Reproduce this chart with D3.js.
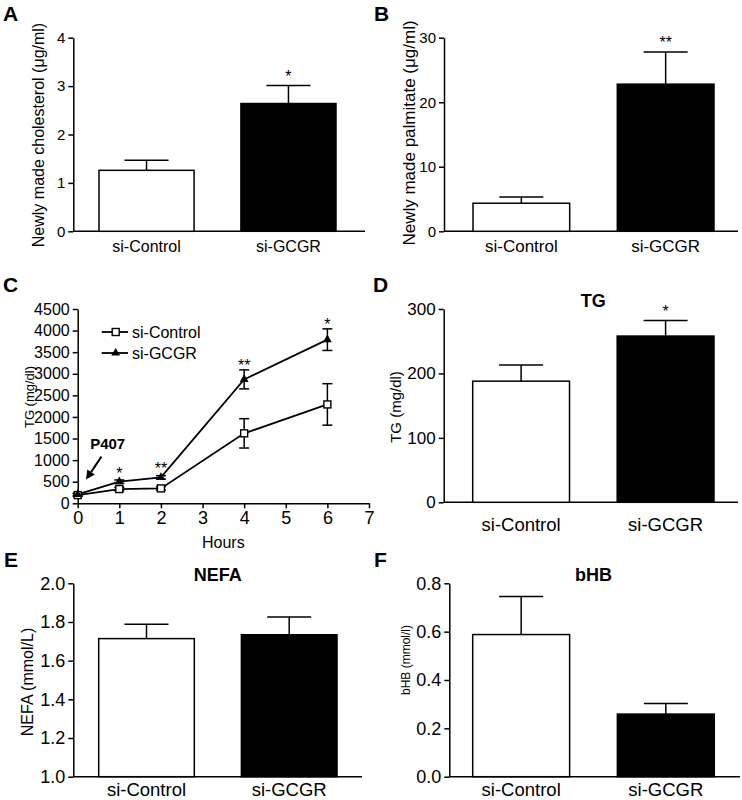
<!DOCTYPE html>
<html lang="en">
<head>
<meta charset="UTF-8">
<title>si-GCGR lipid panels</title>
<script src="https://d3js.org/d3.v7.min.js"></script>
<style>
  body { margin: 0; background: #fff; }
  text { font-family: "Liberation Sans", Arial, Helvetica, sans-serif; fill: #000; }
</style>
</head>
<body>
<script>
// Data
const groups = ["si-Control", "si-GCGR"];

const cholMean = [1.26, 2.64];
const cholErr = [0.21, 0.37];
const cholSig = ["", "*"];

const palmMean = [4.35, 22.8];
const palmErr = [0.95, 5.0];
const palmSig = ["", "**"];

const tgMean = [188, 258];
const tgErr = [25, 24];
const tgSig = ["", "*"];

const nefaMean = [1.714, 1.734];
const nefaErr = [0.074, 0.092];

const bhbMean = [0.588, 0.259];
const bhbErr = [0.157, 0.044];

// panel C time course
const hours = [0, 1, 2, 4, 6];
const ctrlTG = [190, 330, 345, 1620, 2290];
const ctrlTGErr = [30, 40, 40, 340, 480];
const gcgrTG = [205, 500, 600, 2870, 3790];
const gcgrTGErr = [30, 40, 40, 220, 250];
const timeSig = ["", "*", "**", "**", "*"];

const svg = d3.select("body").append("svg")
    .attr("width", 742)
    .attr("height", 800);

function panelLetter(t, x, y) {
    svg.append("text")
        .attr("x", x).attr("y", y)
        .style("font-size", "21px")
        .style("font-weight", "bold")
        .text(t);
}

function yLabel(t, x, y, fs) {
    svg.append("text")
        .attr("transform", "translate(" + x + "," + y + ") rotate(-90)")
        .attr("text-anchor", "middle")
        .attr("dy", "0.35em")
        .style("font-size", fs + "px")
        .text(t);
}

function styleAxis(a, fs) {
    a.attr("font-family", null).attr("font-size", null);
    a.selectAll("path, line").attr("stroke", "#000").attr("stroke-width", 1.5);
    a.selectAll("text").style("font-size", fs + "px").attr("fill", "#000");
}

// bar panel
function barPanel(p, means, errs, sig) {
    const g = svg.append("g");
    const y = d3.scaleLinear().domain(p.domain).range([p.y0, p.y1]);
    const x = d3.scaleBand().domain(groups).range([p.bL, p.bR]).paddingInner(0.33);

    const ya = g.append("g")
        .attr("transform", "translate(" + p.ax + ",0)")
        .call(d3.axisLeft(y).tickValues(p.ticks).tickFormat(p.fmt).tickSize(5).tickSizeOuter(0));
    styleAxis(ya, p.tickFs);

    g.append("line")
        .attr("x1", p.ax).attr("x2", p.xEnd)
        .attr("y1", p.y0).attr("y2", p.y0)
        .attr("stroke", "#000").attr("stroke-width", 1.5);

    const cx = d => x(d) + x.bandwidth() / 2;

    // error bars first (upper only)
    groups.forEach((gr, i) => {
        const top = y(means[i] + errs[i]);
        g.append("line")
            .attr("x1", cx(gr)).attr("x2", cx(gr))
            .attr("y1", y(means[i])).attr("y2", top)
            .attr("stroke", "#000").attr("stroke-width", 1.5);
        g.append("line")
            .attr("x1", cx(gr) - 22).attr("x2", cx(gr) + 22)
            .attr("y1", top).attr("y2", top)
            .attr("stroke", "#000").attr("stroke-width", 1.5);
        if (sig && sig[i]) {
            g.append("text")
                .attr("x", cx(gr)).attr("y", top - 4)
                .attr("text-anchor", "middle")
                .style("font-size", "16px")
                .text(sig[i]);
        }
    });

    g.selectAll("rect.bar")
        .data(groups)
        .enter().append("rect")
        .attr("class", "bar")
        .attr("x", d => x(d))
        .attr("y", (d, i) => y(means[i]))
        .attr("width", x.bandwidth())
        .attr("height", (d, i) => p.y0 - y(means[i]))
        .attr("fill", (d, i) => i === 0 ? "#fff" : "#000")
        .attr("stroke", "#000")
        .attr("stroke-width", 1.5);

    g.selectAll("text.cat")
        .data(groups)
        .enter().append("text")
        .attr("class", "cat")
        .attr("x", cx)
        .attr("y", p.catY)
        .attr("text-anchor", "middle")
        .style("font-size", p.catFs + "px")
        .text(d => d);

    if (p.title) {
        g.append("text")
            .attr("x", (p.bL + p.bR) / 2)
            .attr("y", p.titleY)
            .attr("text-anchor", "middle")
            .style("font-size", "18px")
            .style("font-weight", "bold")
            .text(p.title);
    }

    yLabel(p.ylab, p.labX, p.labY, p.labFs);
    panelLetter(p.letter, p.letX, p.letY);
}

const f1 = d3.format(".1f");

barPanel({ ax: 73.3, xEnd: 365, y0: 231.3, y1: 37.7, bL: 99, bR: 336,
    domain: [0, 4], ticks: [0, 1, 2, 3, 4], fmt: d3.format("d"), tickFs: 15,
    catY: 252, catFs: 16, ylab: "Newly made cholesterol (μg/ml)", labX: 38, labY: 135, labFs: 16,
    letter: "A", letX: 3, letY: 21 }, cholMean, cholErr, cholSig);

barPanel({ ax: 444, xEnd: 738, y0: 231.3, y1: 37.7, bL: 473, bR: 714,
    domain: [0, 30], ticks: [0, 10, 20, 30], fmt: d3.format("d"), tickFs: 15,
    catY: 252, catFs: 17, ylab: "Newly made palmitate (μg/ml)", labX: 409, labY: 133, labFs: 17,
    letter: "B", letX: 374, letY: 21 }, palmMean, palmErr, palmSig);

barPanel({ ax: 443.7, xEnd: 738, y0: 502.3, y1: 309, bL: 472.7, bR: 714,
    domain: [0, 300], ticks: [0, 100, 200, 300], fmt: d3.format("d"), tickFs: 17,
    catY: 531, catFs: 18.5, ylab: "TG (mg/dl)", labX: 396, labY: 407, labFs: 15,
    title: "TG", titleY: 307, letter: "D", letX: 373, letY: 292 }, tgMean, tgErr, tgSig);

barPanel({ ax: 73.3, xEnd: 362, y0: 776.7, y1: 583.3, bL: 98.7, bR: 337,
    domain: [1.0, 2.0], ticks: [1.0, 1.2, 1.4, 1.6, 1.8, 2.0], fmt: f1, tickFs: 18,
    catY: 796, catFs: 18.5, ylab: "NEFA (mmol/L)", labX: 27, labY: 682, labFs: 16,
    title: "NEFA", titleY: 581, letter: "E", letX: 4, letY: 567 }, nefaMean, nefaErr, null);

barPanel({ ax: 449.3, xEnd: 740, y0: 776.7, y1: 583.3, bL: 472.7, bR: 714.3,
    domain: [0, 0.8], ticks: [0, 0.2, 0.4, 0.6, 0.8], fmt: f1, tickFs: 18,
    catY: 796, catFs: 18.5, ylab: "bHB (mmol/l)", labX: 406, labY: 660, labFs: 12,
    title: "bHB", titleY: 581, letter: "F", letX: 374, letY: 567 }, bhbMean, bhbErr, null);

// Panel C: time course
(function () {
    const g = svg.append("g");
    const x = d3.scaleLinear().domain([0, 7]).range([77.7, 369]);
    const y = d3.scaleLinear().domain([0, 4500]).range([503.3, 309]);

    const ya = g.append("g")
        .attr("transform", "translate(" + x(0) + ",0)")
        .call(d3.axisLeft(y).tickValues(d3.range(0, 4501, 500)).tickFormat(d3.format("d"))
            .tickSize(5).tickSizeOuter(0));
    styleAxis(ya, 16);

    const xa = g.append("g")
        .attr("transform", "translate(0," + y(0) + ")")
        .call(d3.axisBottom(x).ticks(7).tickSize(5).tickSizeOuter(0));
    styleAxis(xa, 18);

    const line = d3.line().x((d, i) => x(hours[i])).y(d => y(d));

    [[ctrlTG, ctrlTGErr], [gcgrTG, gcgrTGErr]].forEach(s => {
        g.append("path")
            .datum(s[0])
            .attr("d", line)
            .attr("fill", "none")
            .attr("stroke", "#000")
            .attr("stroke-width", 1.8);
        s[0].forEach((v, i) => {
            const xx = x(hours[i]);
            const lo = y(v - s[1][i]), hi = y(v + s[1][i]);
            g.append("line").attr("x1", xx).attr("x2", xx).attr("y1", lo).attr("y2", hi)
                .attr("stroke", "#000").attr("stroke-width", 1.5);
            [lo, hi].forEach(yy => {
                g.append("line").attr("x1", xx - 5).attr("x2", xx + 5).attr("y1", yy).attr("y2", yy)
                    .attr("stroke", "#000").attr("stroke-width", 1.5);
            });
        });
    });

    // markers
    g.selectAll("rect.sq")
        .data(ctrlTG)
        .enter().append("rect")
        .attr("class", "sq")
        .attr("x", (d, i) => x(hours[i]) - 3.5)
        .attr("y", d => y(d) - 3.5)
        .attr("width", 7).attr("height", 7)
        .attr("fill", "#fff").attr("stroke", "#000").attr("stroke-width", 1.4);

    const tri = d3.symbol().type(d3.symbolTriangle).size(34);
    g.selectAll("path.tri")
        .data(gcgrTG)
        .enter().append("path")
        .attr("class", "tri")
        .attr("d", tri)
        .attr("transform", (d, i) => "translate(" + x(hours[i]) + "," + y(d) + ")")
        .attr("fill", "#000");

    // significance
    gcgrTG.forEach((v, i) => {
        if (!timeSig[i]) return;
        const top = Math.min(y(v + gcgrTGErr[i]), y(v) - 4);
        g.append("text")
            .attr("x", x(hours[i]))
            .attr("y", top + 1)
            .attr("text-anchor", "middle")
            .style("font-size", "16px")
            .text(timeSig[i]);
    });

    // legend
    const leg = [["si-Control", "sq"], ["si-GCGR", "tri"]];
    leg.forEach((l, i) => {
        const ly = 332 + i * 21;
        g.append("line").attr("x1", 101.7).attr("x2", 128).attr("y1", ly).attr("y2", ly)
            .attr("stroke", "#000").attr("stroke-width", 1.8);
        if (l[1] === "sq") {
            g.append("rect").attr("x", 115.7 - 3.5).attr("y", ly - 3.5).attr("width", 7).attr("height", 7)
                .attr("fill", "#fff").attr("stroke", "#000").attr("stroke-width", 1.4);
        } else {
            g.append("path").attr("d", tri).attr("transform", "translate(115.7," + ly + ")").attr("fill", "#000");
        }
        g.append("text").attr("x", 132).attr("y", ly).attr("dy", "0.35em")
            .style("font-size", "16px").text(l[0]);
    });

    // P407 annotation
    g.append("text")
        .attr("x", x(0.3)).attr("y", y(1250))
        .style("font-size", "15px").style("font-weight", "bold")
        .text("P407");
    const tip = [x(0.2), y(550)], tail = [x(0.57), y(1080)];
    const ang = Math.atan2(tip[1] - tail[1], tip[0] - tail[0]);
    const hl = 9, hw = 4.5;
    const base = [tip[0] - hl * Math.cos(ang), tip[1] - hl * Math.sin(ang)];
    g.append("line")
        .attr("x1", tail[0]).attr("y1", tail[1]).attr("x2", base[0]).attr("y2", base[1])
        .attr("stroke", "#000").attr("stroke-width", 2);
    g.append("path")
        .attr("d", "M" + tip + "L" + [base[0] + hw * Math.sin(ang), base[1] - hw * Math.cos(ang)] +
            "L" + [base[0] - hw * Math.sin(ang), base[1] + hw * Math.cos(ang)] + "Z")
        .attr("fill", "#000");

    g.append("text")
        .attr("x", (x(0) + x(7)) / 2).attr("y", 548)
        .attr("text-anchor", "middle")
        .style("font-size", "16px")
        .text("Hours");

    yLabel("TG (mg/dl)", 29, 397, 13);
    panelLetter("C", 3, 292);
})();
</script>
</body>
</html>
